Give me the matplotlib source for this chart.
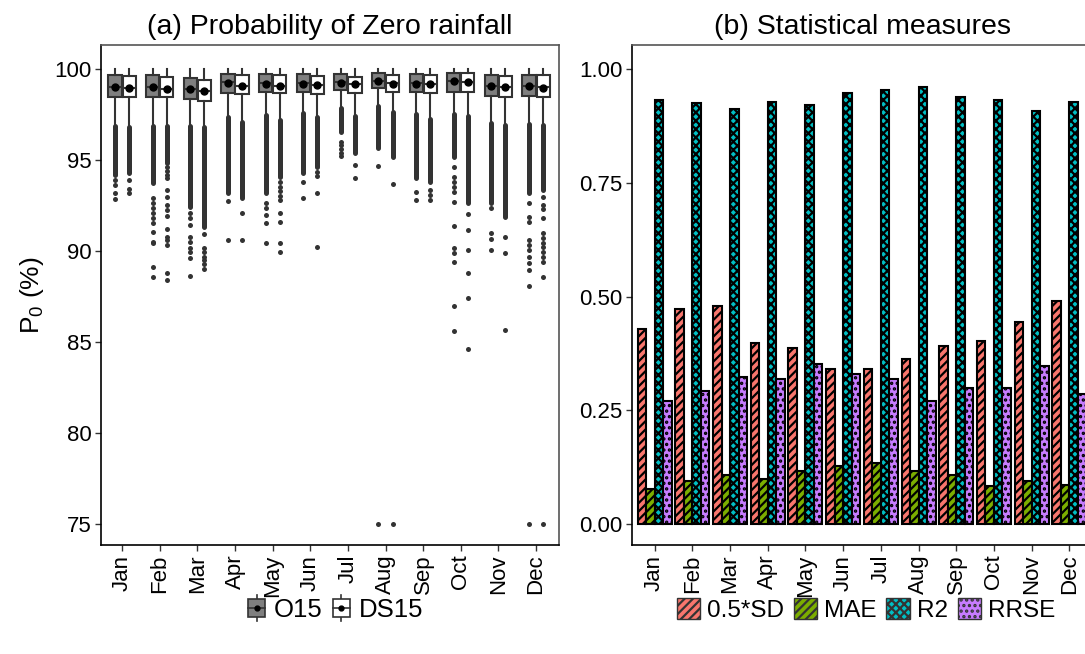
import numpy as np
import matplotlib
matplotlib.use("Agg")
import matplotlib.pyplot as plt
from matplotlib.patches import Patch, Rectangle
from matplotlib.lines import Line2D
from matplotlib.legend_handler import HandlerBase

plt.rcParams['font.family'] = ['Liberation Sans', 'DejaVu Sans']
plt.rcParams['mathtext.fontset'] = 'custom'
plt.rcParams['mathtext.rm'] = 'Liberation Sans'
plt.rcParams['mathtext.it'] = 'Liberation Sans'
plt.rcParams['hatch.linewidth'] = 1.6

months = ["Jan", "Feb", "Mar", "Apr", "May", "Jun",
          "Jul", "Aug", "Sep", "Oct", "Nov", "Dec"]

# ---- panel (a): box statistics (P0, %)
o15_q1 = [98.48, 98.45, 98.35, 98.66, 98.76, 98.76, 98.85, 98.94, 98.72, 98.76, 98.52, 98.52]
o15_med = [99.03, 99.03, 98.90, 99.27, 99.21, 99.21, 99.27, 99.36, 99.21, 99.36, 99.08, 99.07]
o15_q3 = [99.67, 99.67, 99.49, 99.73, 99.73, 99.73, 99.73, 99.80, 99.73, 99.80, 99.67, 99.67]
o15_mean = [99.00, 99.00, 98.88, 99.24, 99.19, 99.19, 99.25, 99.33, 99.19, 99.33, 99.05, 99.04]
o15_dense_hi = [96.87, 96.87, 96.87, 97.35, 97.47, 97.60, 97.84, 97.97, 97.53, 97.53, 97.05, 96.98]
o15_dense_lo = [94.18, 93.72, 92.43, 93.20, 93.17, 94.27, 96.56, 95.64, 94.00, 95.18, 92.62, 93.17]
o15_sparse = [
    [93.9, 93.63, 93.17, 92.84],
    [92.9, 92.62, 92.35, 92.07, 91.8, 91.52, 91.06, 90.51, 90.42, 89.14, 88.59],
    [92.07, 91.8, 91.43, 90.79, 90.51, 90.15, 89.96, 89.6, 88.63],
    [92.77, 90.6],
    [92.62, 92.35, 91.98, 91.52, 90.42],
    [93.81, 92.9],
    [96.0, 95.8, 95.6, 95.4, 95.22],
    [94.67, 75.0],
    [93.26, 92.8],
    [94.6, 94.08, 93.81, 93.53, 93.26, 92.71, 91.37, 90.15, 89.87, 89.4, 86.98, 85.6],
    [92.35, 91.01, 90.64, 90.05],
    [92.62, 91.89, 91.61, 90.6, 90.33, 90.05, 89.69, 89.32, 88.96, 88.08, 75.0],
]

ds15_q1 = [98.45, 98.45, 98.26, 98.61, 98.66, 98.63, 98.66, 98.76, 98.66, 98.72, 98.48, 98.48]
ds15_med = [98.97, 98.90, 98.81, 99.08, 99.08, 99.12, 99.18, 99.21, 99.18, 99.30, 99.03, 99.00]
ds15_q3 = [99.62, 99.54, 99.40, 99.67, 99.67, 99.62, 99.58, 99.67, 99.67, 99.76, 99.62, 99.67]
ds15_mean = [98.95, 98.88, 98.78, 99.06, 99.06, 99.10, 99.16, 99.19, 99.16, 99.28, 99.01, 98.98]
ds15_dense_hi = [96.83, 96.87, 96.83, 97.10, 97.20, 97.35, 97.42, 97.65, 97.24, 97.42, 96.92, 96.92]
ds15_dense_lo = [94.27, 94.82, 91.34, 92.90, 94.08, 94.63, 95.37, 95.18, 93.77, 92.62, 91.89, 93.35]
ds15_sparse = [
    [93.9, 93.39, 93.17],
    [94.6, 94.4, 94.2, 94.0, 93.35, 92.98, 92.53, 92.25, 91.92, 91.19, 90.79, 90.6, 90.33, 88.77, 88.41],
    [90.93, 90.15, 89.96, 89.69, 89.51, 89.29, 89.0],
    [92.07, 90.6],
    [93.8, 93.5, 93.3, 93.0, 92.8, 92.07, 91.61, 90.42, 89.96],
    [94.36, 94.12, 93.17, 90.2],
    [94.73, 93.99],
    [93.68, 75.0],
    [93.35, 93.08, 92.8],
    [92.02, 91.15, 90.05, 88.77, 87.44, 84.62],
    [90.79, 89.87, 85.66],
    [92.98, 92.53, 92.29, 91.8, 90.97, 90.7, 90.42, 90.2, 89.96, 89.69, 89.41, 88.59, 75.0],
]
whis_hi = 100.0

# ---- panel (b): statistical measures
sd_half = [0.429, 0.472, 0.479, 0.397, 0.386, 0.340, 0.341, 0.362, 0.391, 0.402, 0.445, 0.490]
mae = [0.078, 0.094, 0.107, 0.098, 0.116, 0.128, 0.135, 0.117, 0.108, 0.083, 0.095, 0.086]
r2 = [0.932, 0.926, 0.912, 0.927, 0.921, 0.948, 0.954, 0.961, 0.938, 0.932, 0.908, 0.928]
rrse = [0.271, 0.292, 0.323, 0.318, 0.351, 0.329, 0.318, 0.271, 0.300, 0.298, 0.347, 0.286]

fig = plt.figure(figsize=(10.85, 6.54), dpi=100)
ax1 = fig.add_axes([101 / 1085, 109 / 654, 458 / 1085, 500 / 654])
ax2 = fig.add_axes([632 / 1085, 109 / 654, 460 / 1085, 500 / 654])

edge = '#333333'
x = np.arange(1, 13)


def draw_boxes(ax, pos, q1, med, q3, mean, dhi, dlo, sparse, fill):
    stats = []
    for i in range(12):
        stats.append(dict(q1=q1[i], med=med[i], q3=q3[i], mean=mean[i],
                          whislo=dhi[i] + 0.08, whishi=whis_hi, fliers=[]))
    ax.bxp(stats, positions=pos, widths=0.35, patch_artist=True,
           showfliers=False, showmeans=True, showcaps=False,
           boxprops=dict(facecolor=fill, edgecolor=edge, linewidth=1.5),
           whiskerprops=dict(color=edge, linewidth=1.5),
           medianprops=dict(color=edge, linewidth=1.5),
           meanprops=dict(marker='o', markerfacecolor='black',
                          markeredgecolor='black', markersize=5),
           zorder=3)
    for i in range(12):
        ax.plot([pos[i], pos[i]], [dlo[i], dhi[i]], color=edge, lw=3.6,
                solid_capstyle='round', zorder=2)
        ax.plot([pos[i]] * len(sparse[i]), sparse[i], 'o', color=edge,
                markersize=3.6, markeredgewidth=0, zorder=2)


draw_boxes(ax1, x - 0.1875, o15_q1, o15_med, o15_q3, o15_mean,
           o15_dense_hi, o15_dense_lo, o15_sparse, '#7f7f7f')
draw_boxes(ax1, x + 0.1875, ds15_q1, ds15_med, ds15_q3, ds15_mean,
           ds15_dense_hi, ds15_dense_lo, ds15_sparse, 'white')

ax1.set_xlim(0.44, 12.61)
ax1.set_ylim(73.85, 101.32)
ax1.set_yticks([75, 80, 85, 90, 95, 100])
ax1.set_xticks(x)
ax1.set_xticklabels(months, rotation=90)
ax1.set_ylabel(r'P$_0$ (%)', fontsize=19, labelpad=6)
ax1.set_title('(a) Probability of Zero rainfall', fontsize=20.5, pad=8)

# bars
w = 0.225
series = [(sd_half, '#F8766D', '////'), (mae, '#7CAE00', '////'),
          (r2, '#00BFC4', 'xxxx'), (rrse, '#C77CFF', '...')]
for k, (vals, col, hatch) in enumerate(series):
    ax2.bar(x + (k - 1.5) * w, vals, width=w, color=col, hatch=hatch,
            edgecolor='black', linewidth=1.5, zorder=3)
ax2.set_xlim(0.4, 12.6)
ax2.set_ylim(-0.046, 1.053)
ax2.set_yticks([0, 0.25, 0.5, 0.75, 1.0])
ax2.set_yticklabels(['0.00', '0.25', '0.50', '0.75', '1.00'])
ax2.set_xticks(x)
ax2.set_xticklabels(months, rotation=90)
ax2.set_title('(b) Statistical measures', fontsize=20.5, pad=8)

for ax in (ax1, ax2):
    ax.tick_params(axis='both', labelsize=16, length=4, width=1,
                   color='#333333', labelcolor='black', direction='out', pad=3)
    for s in ax.spines.values():
        s.set_color('#555555')
        s.set_linewidth(1.2)
    ax.spines['left'].set_color('black')
    ax.spines['bottom'].set_color('black')
ax2.spines['right'].set_visible(False)


class BoxHandler(HandlerBase):
    def create_artists(self, legend, orig, xd, yd, width, height, fontsize, trans):
        cx = xd + width / 2
        bw = width * 0.9
        bh = height * 1.0
        cy = yd + height / 2
        line = Line2D([cx, cx], [cy - height * 0.75, cy + height * 0.75],
                      color=edge, lw=1.2, transform=trans)
        rect = Rectangle((cx - bw / 2, cy - bh / 2), bw, bh,
                         facecolor=orig.get_facecolor(), edgecolor=edge,
                         lw=1.2, transform=trans)
        med = Line2D([cx - bw / 2, cx + bw / 2], [cy, cy], color=edge,
                     lw=1.2, transform=trans)
        dot = Line2D([cx], [cy], marker='o', color='black', markersize=3.5,
                     transform=trans)
        return [line, rect, med, dot]


h1 = [Patch(facecolor='#7f7f7f'), Patch(facecolor='white')]
fig.legend(h1, ['O15', 'DS15'], handler_map={Patch: BoxHandler()},
           loc='center', bbox_to_anchor=(335 / 1085, 1 - 610 / 654),
           ncol=2, frameon=False, fontsize=18.5, handlelength=0.75,
           handletextpad=0.3, columnspacing=0.35)

h2 = [Patch(facecolor=c, hatch=h, edgecolor=edge) for _, c, h in series]
fig.legend(h2, ['0.5*SD', 'MAE', 'R2', 'RRSE'],
           loc='center', bbox_to_anchor=(866 / 1085, 1 - 610 / 654),
           ncol=4, frameon=False, fontsize=17.5, handlelength=0.95,
           handleheight=0.95, handletextpad=0.3, columnspacing=0.4)

fig.savefig('out.png', dpi=100)
